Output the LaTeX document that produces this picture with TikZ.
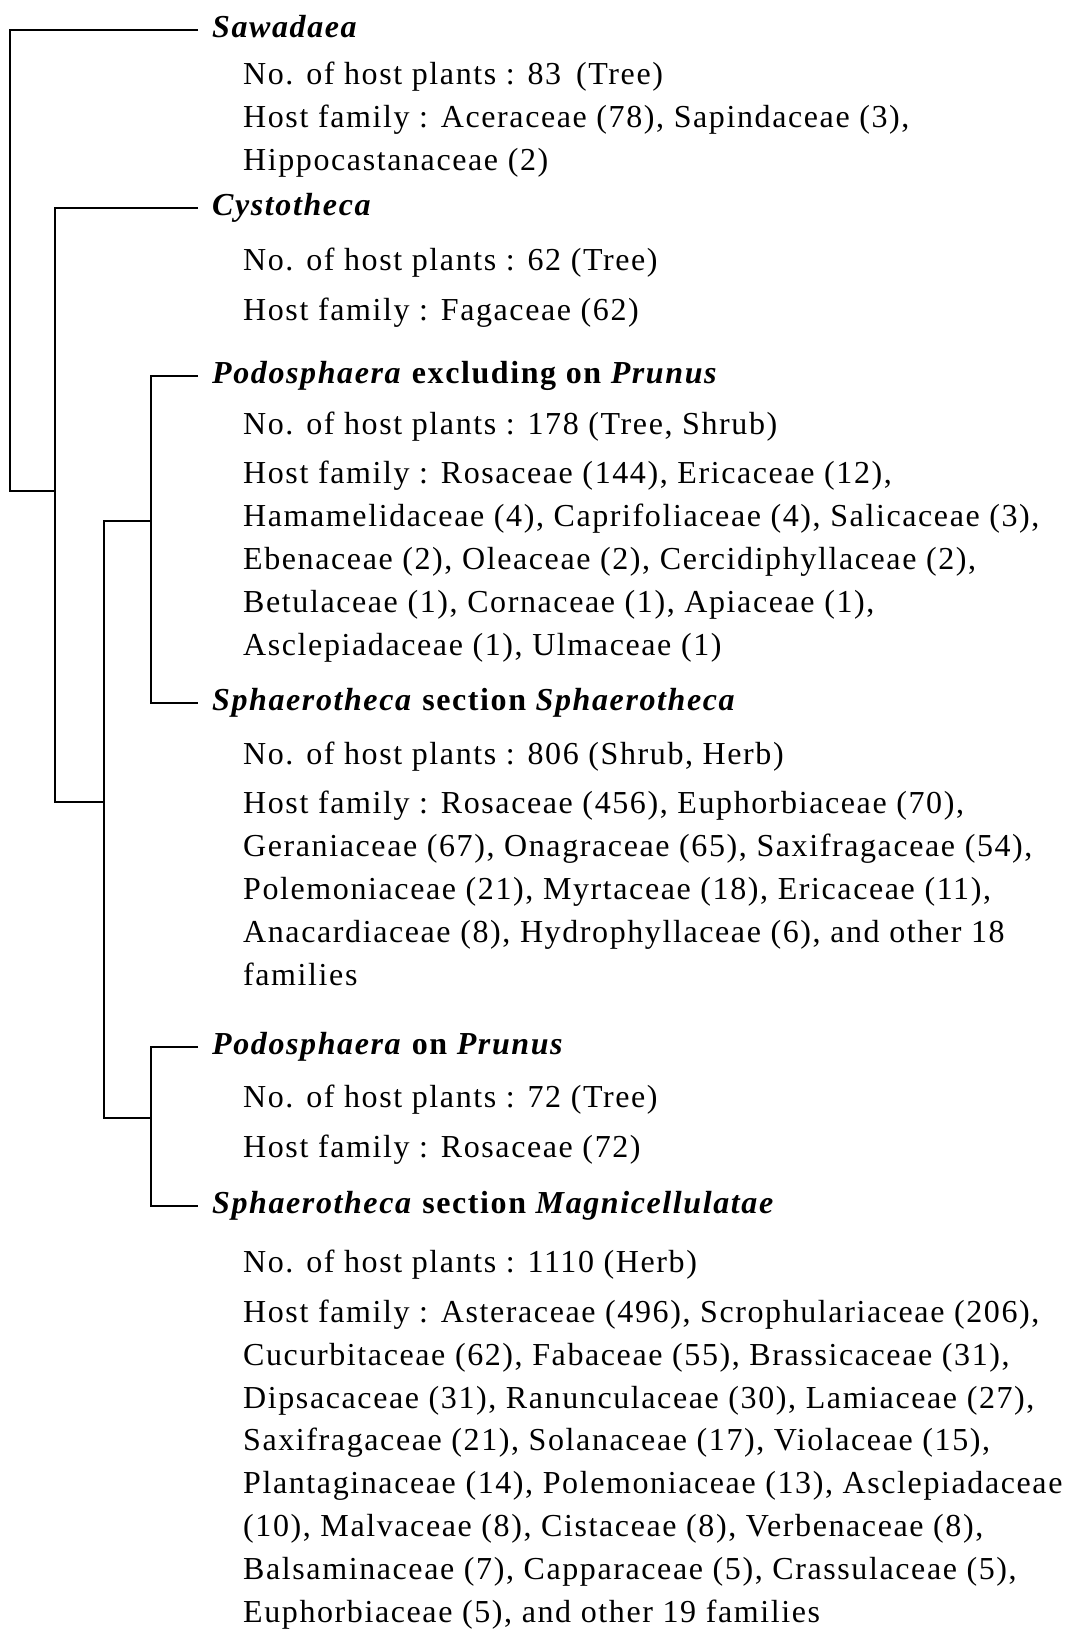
\documentclass[tikz,border=0pt]{standalone}
\usepackage{fontspec}
\setmainfont[LetterSpace=5.0]{Liberation Serif}

\begin{document}
\begin{tikzpicture}[
    x=1pt, y=-1pt,
    taxon/.style={
        anchor=west, inner xsep=14pt, inner ysep=0pt,
        text height=22pt, text depth=8pt,
        font=\fontsize{32}{42.8}\selectfont\bfseries
    },
    info/.style={
        anchor=base west, inner sep=0pt, align=left,
        font=\fontsize{32}{42.8}\selectfont
    },
    branch/.style={line width=2pt, black}
]

\fill[white] (0,0) rectangle (1066,1631);
\useasboundingbox (0,0) rectangle (1066,1631);

% info blocks sit on the baseline of their last line
\node (sawadaea) [taxon] at (198,30) {\textit{Sawadaea}};
\node (sawadaeaInfo) [info] at (243,170)
    {No. of host plants : 83 \,(Tree)\\
     Host family : Aceraceae (78), Sapindaceae (3),\\
     Hippocastanaceae (2)};

\node (cystotheca) [taxon] at (198,208) {\textit{Cystotheca}};
\node (cystothecaInfo) [info] at (243,320)
    {No. of host plants : 62 (Tree)\\[7pt]
     Host family : Fagaceae (62)};

\node (podoExcl) [taxon] at (198,376)
    {\textit{Podosphaera} excluding on \textit{Prunus}};
\node (podoExclInfo) [info] at (243,655)
    {No. of host plants : 178 (Tree, Shrub)\\[7pt]
     Host family : Rosaceae (144), Ericaceae (12),\\
     Hamamelidaceae (4), Caprifoliaceae (4), Salicaceae (3),\\
     Ebenaceae (2), Oleaceae (2), Cercidiphyllaceae (2),\\
     Betulaceae (1), Cornaceae (1), Apiaceae (1),\\
     Asclepiadaceae (1), Ulmaceae (1)};

\node (sphSph) [taxon] at (198,703)
    {\textit{Sphaerotheca} section \textit{Sphaerotheca}};
\node (sphSphInfo) [info] at (243,985)
    {No. of host plants : 806 (Shrub, Herb)\\[7pt]
     Host family : Rosaceae (456), Euphorbiaceae (70),\\
     Geraniaceae (67), Onagraceae (65), Saxifragaceae (54),\\
     Polemoniaceae (21), Myrtaceae (18), Ericaceae (11),\\
     Anacardiaceae (8), Hydrophyllaceae (6), and other 18\\
     families};

\node (podoPrunus) [taxon] at (198,1047)
    {\textit{Podosphaera} on \textit{Prunus}};
\node (podoPrunusInfo) [info] at (243,1157)
    {No. of host plants : 72 (Tree)\\[7pt]
     Host family : Rosaceae (72)};

\node (sphMagn) [taxon] at (198,1206)
    {\textit{Sphaerotheca} section \textit{Magnicellulatae}};
\node (sphMagnInfo) [info] at (243,1622)
    {No. of host plants : 1110 (Herb)\\[7pt]
     Host family : Asteraceae (496), Scrophulariaceae (206),\\
     Cucurbitaceae (62), Fabaceae (55), Brassicaceae (31),\\
     Dipsacaceae (31), Ranunculaceae (30), Lamiaceae (27),\\
     Saxifragaceae (21), Solanaceae (17), Violaceae (15),\\
     Plantaginaceae (14), Polemoniaceae (13), Asclepiadaceae\\
     (10), Malvaceae (8), Cistaceae (8), Verbenaceae (8),\\
     Balsaminaceae (7), Capparaceae (5), Crassulaceae (5),\\
     Euphorbiaceae (5), and other 19 families};

% tree
\def\xRoot{10}
\def\xA{55}
\def\xB{104}
\def\xC{151}

\coordinate (rootJ) at (\xRoot,491);
\coordinate (aJ)    at (\xA,491);
\coordinate (aBot)  at (\xA,802);
\coordinate (bJ)    at (\xB,802);
\coordinate (cJ)    at (\xC,521);
\coordinate (bBot)  at (\xB,1118);
\coordinate (dJ)    at (\xC,1118);

\draw[branch] (sawadaea.west) -| (rootJ) -- (aJ);
\draw[branch] (cystotheca.west) -| (aBot) -- (bJ);
\draw[branch] (podoExcl.west) -| (cJ) |- (sphSph.west);
\draw[branch] (cJ) -| (bBot) -- (dJ);
\draw[branch] (podoPrunus.west) -| (dJ) |- (sphMagn.west);

\end{tikzpicture}
\end{document}
